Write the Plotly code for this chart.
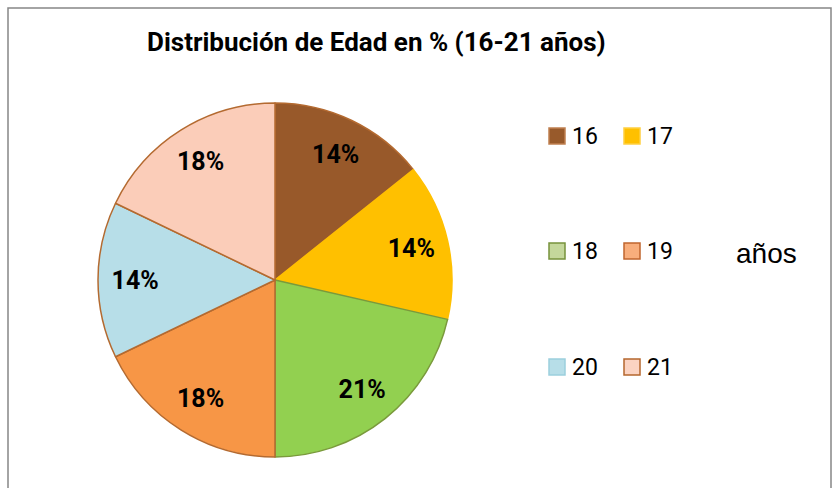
import plotly.graph_objects as go

# ---- data ----
categories = ["16", "17", "18", "19", "20", "21"]
counts = [4, 4, 6, 5, 4, 5]          # shares: 14%, 14%, 21%, 18%, 14%, 18%
title_text = "Distribución de Edad en % (16-21 años)"
side_label = "años"

# ---- styles ----
slice_colors = ["#98592A", "#FFC000", "#92D050", "#F79646", "#B7DEE8", "#FBCDB9"]
slice_lines = ["#B46A30", "#FFC000", "#7A9A3C", "#B46A30", "#B46A30", "#B46A30"]
legend_fill = ["#985A2B", "#FFC000", "#C4D79B", "#F8AE7C", "#B7DEE8", "#FBD3C2"]
legend_line = ["#C08050", "#FFD040", "#77933C", "#C0652E", "#9CCFDD", "#B5672E"]

W, H = 840, 488
def px(x):
    return x / W
def py(y):
    return 1 - y / H

dom_x = [px(98), px(452)]
dom_y = [py(457), py(103)]

fig = go.Figure()
fig.add_trace(go.Pie(
    labels=categories, values=counts, sort=False, direction="clockwise",
    rotation=0, domain=dict(x=dom_x, y=dom_y),
    marker=dict(colors=slice_colors, line=dict(color=slice_lines, width=1.5)),
    textinfo="none", showlegend=False, hoverinfo="label+percent",
))
# transparent ring trace to carry the percentage labels at ~0.8R
fig.add_trace(go.Pie(
    labels=categories, values=counts, sort=False, direction="clockwise",
    rotation=0, domain=dict(x=dom_x, y=dom_y), hole=0.58,
    marker=dict(colors=["rgba(0,0,0,0)"] * len(categories), line=dict(width=0)),
    texttemplate="%{percent:.0%}",
    textposition="inside", insidetextorientation="horizontal",
    textfont=dict(family="Roboto", size=25, color="black", weight="bold"),
    showlegend=False, hoverinfo="skip",
))

shapes = [dict(type="rect", xref="paper", yref="paper",
               x0=px(8), x1=px(831), y0=-0.02, y1=py(8),
               line=dict(color="#868686", width=1.5), fillcolor="rgba(0,0,0,0)",
               layer="below")]
annotations = []
col_x = [549, 624]
row_y = [136, 251, 367]
for i, cat in enumerate(categories):
    cx = col_x[i % 2]
    cy = row_y[i // 2]
    shapes.append(dict(type="rect", xref="paper", yref="paper",
                       x0=px(cx), x1=px(cx + 16), y0=py(cy + 8), y1=py(cy - 8),
                       fillcolor=legend_fill[i], line=dict(color=legend_line[i], width=1.5)))
    annotations.append(dict(x=px(cx + 21), y=py(cy), xref="paper", yref="paper",
                            text=cat, showarrow=False, xanchor="left", yanchor="middle",
                            font=dict(family="Roboto", size=23, color="black")))

annotations.append(dict(x=px(766), y=py(253), xref="paper", yref="paper",
                        text=side_label, showarrow=False, xanchor="center", yanchor="middle",
                        font=dict(family="Liberation Sans", size=28, color="black")))
annotations.append(dict(x=px(376), y=py(42), xref="paper", yref="paper",
                        text=title_text, showarrow=False, xanchor="center", yanchor="middle",
                        font=dict(family="Roboto", size=26, color="black", weight="bold")))

fig.update_layout(
    width=W, height=H, margin=dict(l=0, r=0, t=0, b=0),
    paper_bgcolor="white", plot_bgcolor="white",
    shapes=shapes, annotations=annotations,
)
fig.write_html("out.html", config={"displayModeBar": False},
               post_script="document.body.style.margin='0';document.body.style.overflow='hidden';")
